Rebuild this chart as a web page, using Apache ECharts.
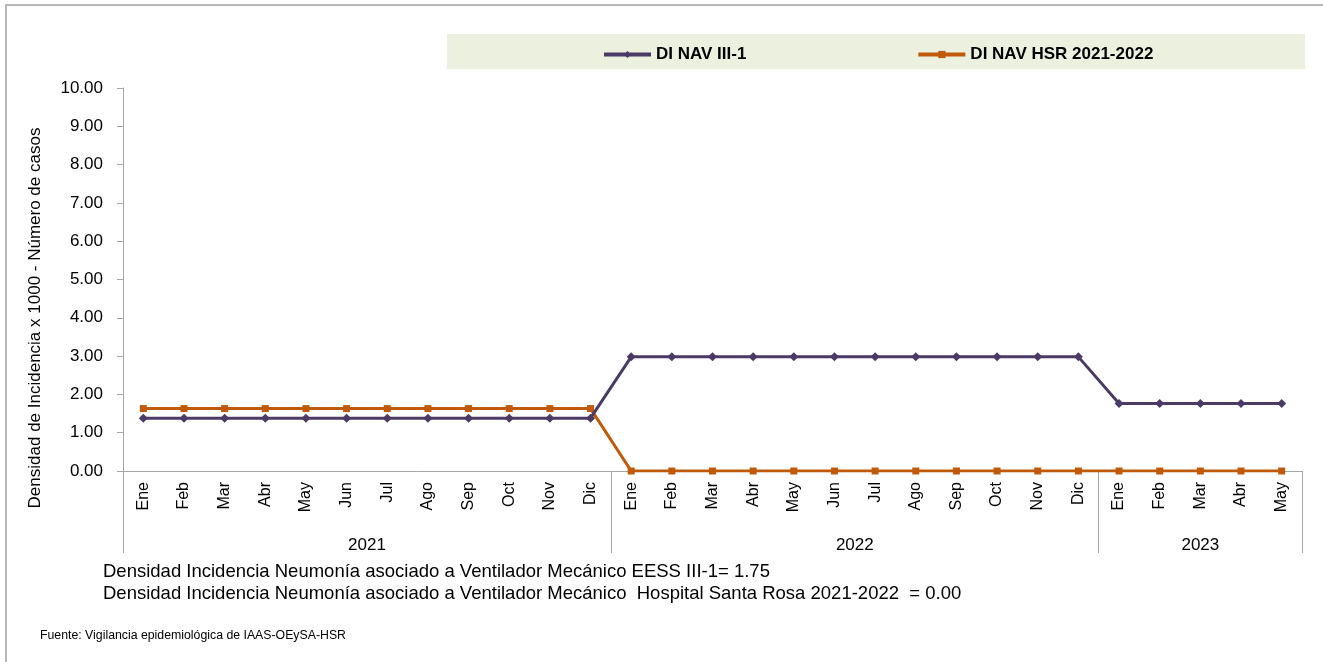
<!DOCTYPE html>
<html>
<head>
<meta charset="utf-8">
<script src="https://cdn.jsdelivr.net/npm/echarts@6/dist/echarts.min.js"></script>
<style>html,body{margin:0;padding:0;background:#fff}#c{width:1323px;height:662px}</style>
</head>
<body>
<div id="c"></div>
<script>
var months = ['Ene','Feb','Mar','Abr','May','Jun','Jul','Ago','Sep','Oct','Nov','Dic',
              'Ene','Feb','Mar','Abr','May','Jun','Jul','Ago','Sep','Oct','Nov','Dic',
              'Ene','Feb','Mar','Abr','May'];
var years = ['2021','2022','2023'];
var yearBounds = [0, 12, 24, 29];
var yearCenters = [6, 18, 26.5];
var diNavIII1 = [1.38,1.38,1.38,1.38,1.38,1.38,1.38,1.38,1.38,1.38,1.38,1.38,
                 2.98,2.98,2.98,2.98,2.98,2.98,2.98,2.98,2.98,2.98,2.98,2.98,
                 1.76,1.76,1.76,1.76,1.76];
var diNavHSR = [1.63,1.63,1.63,1.63,1.63,1.63,1.63,1.63,1.63,1.63,1.63,1.63,
                0,0,0,0,0,0,0,0,0,0,0,0,
                0,0,0,0,0];

var FONT = 'Liberation Sans';
var chart = echarts.init(document.getElementById('c'), null, {renderer:'canvas'});
var option = {
  backgroundColor: '#ffffff',
  animation: false,
  textStyle: {fontFamily: FONT},
  grid: {left: 123, right: 21, top: 88, bottom: 191, containLabel: false},
  legend: {
    left: 597, top: 41,
    itemWidth: 47, itemHeight: 9, itemGap: 170,
    lineStyle: {width: 4},
    textStyle: {fontFamily: FONT, fontWeight: 'bold', fontSize: 17, color: '#000'},
    data: ['DI NAV III-1', 'DI NAV HSR 2021-2022']
  },
  xAxis: [{
    type: 'category',
    data: months,
    boundaryGap: true,
    axisLine: {lineStyle: {color: '#a6a6a6', width: 1}},
    axisTick: {show: false},
    axisLabel: {rotate: 90, margin: 11, fontSize: 16, color: '#000', interval: 0, fontFamily: FONT},
    splitLine: {show: false}
  }, {
    type: 'value',
    position: 'bottom',
    min: 0, max: 29,
    axisLine: {show: false},
    axisTick: {show: true, customValues: yearBounds, length: 82, lineStyle: {color: '#a6a6a6', width: 1}},
    axisLabel: {
      customValues: yearCenters, margin: 66, fontSize: 17, color: '#000', fontFamily: FONT,
      formatter: function (v) { var i = yearCenters.indexOf(v); return i >= 0 ? years[i] : ''; }
    },
    splitLine: {show: false}
  }],
  yAxis: {
    type: 'value',
    min: 0, max: 10, interval: 1,
    axisLine: {show: true, lineStyle: {color: '#a6a6a6', width: 1}},
    axisTick: {show: true, length: 6, lineStyle: {color: '#a6a6a6'}},
    axisLabel: {margin: 20, fontSize: 17, color: '#000', fontFamily: FONT,
      formatter: function (v) { return v.toFixed(2); }},
    splitLine: {show: false}
  },
  graphic: [
    {type: 'rect', shape: {x: 6, y: 5, width: 1400, height: 800}, style: {fill: 'none', stroke: '#a0a0a0', lineWidth: 1.5}, silent: true, z: -10},
    {type: 'rect', shape: {x: 447, y: 34, width: 858, height: 35}, style: {fill: '#ebf1de'}, silent: true, z: -5},
    {type: 'text', x: 35, y: 318, rotation: Math.PI / 2,
      style: {text: 'Densidad de Incidencia x 1000 - Número de casos', fontSize: 17, fontFamily: FONT, fill: '#000', align: 'center', verticalAlign: 'middle'}},
    {type: 'text', left: 103, top: 562,
      style: {text: 'Densidad Incidencia Neumonía asociado a Ventilador Mecánico EESS III-1= 1.75', fontSize: 18.5, fontFamily: FONT, fill: '#000'}},
    {type: 'text', left: 103, top: 584,
      style: {text: 'Densidad Incidencia Neumonía asociado a Ventilador Mecánico  Hospital Santa Rosa 2021-2022  = 0.00', fontSize: 18.5, fontFamily: FONT, fill: '#000'}},
    {type: 'text', left: 40, top: 630,
      style: {text: 'Fuente: Vigilancia epidemiológica de IAAS-OEySA-HSR', fontSize: 12.3, fontFamily: FONT, fill: '#000'}}
  ],
  series: [{
    name: 'DI NAV III-1',
    type: 'line',
    data: diNavIII1,
    symbol: 'diamond', symbolSize: 9,
    lineStyle: {color: '#4b3a66', width: 3},
    itemStyle: {color: '#4b3a66'},
    z: 3
  }, {
    name: 'DI NAV HSR 2021-2022',
    type: 'line',
    data: diNavHSR,
    symbol: 'rect', symbolSize: 7,
    lineStyle: {color: '#c05a0a', width: 3},
    itemStyle: {color: '#c05a0a'},
    z: 2
  }]
};
chart.setOption(option);
</script>
</body>
</html>
